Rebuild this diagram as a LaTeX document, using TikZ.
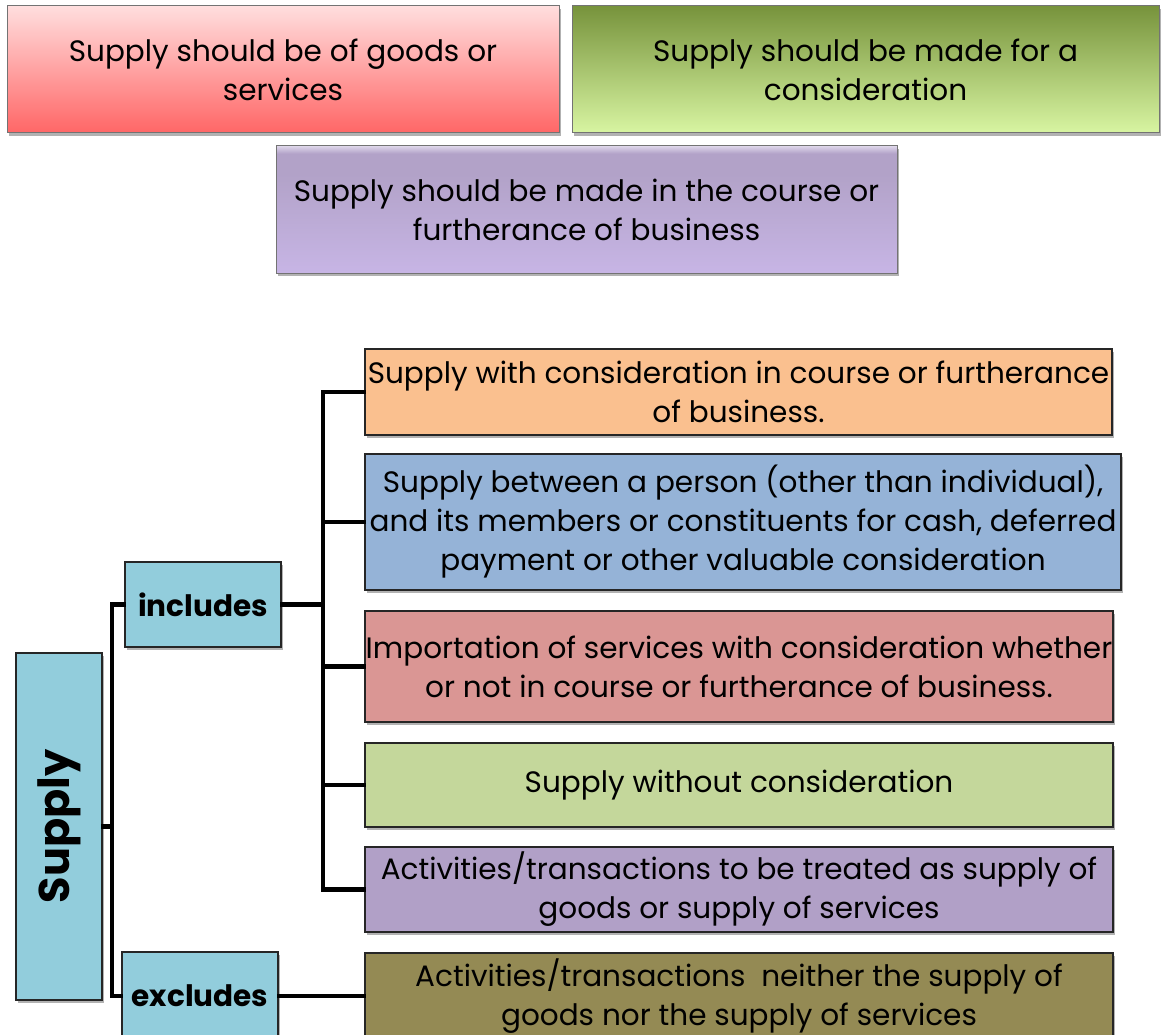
\documentclass[tikz,border=0pt]{standalone}
\usepackage{fontspec}
\usepackage{graphicx}
\setmainfont{Poppins}
\usetikzlibrary{shadows,calc}
\definecolor{cOrange}{RGB}{250,192,143}
\definecolor{cBlue}{RGB}{149,179,215}
\definecolor{cPink}{RGB}{218,150,148}
\definecolor{cGreen}{RGB}{196,215,155}
\definecolor{cPurple}{RGB}{177,160,199}
\definecolor{cOlive}{RGB}{148,138,84}
\definecolor{cCat}{RGB}{146,205,220}
\definecolor{redTop}{RGB}{255,222,222}
\definecolor{redBot}{RGB}{255,102,102}
\definecolor{grnTop}{RGB}{119,147,60}
\definecolor{grnBot}{RGB}{216,245,162}
\definecolor{purTop}{RGB}{222,214,234}
\definecolor{purMid}{RGB}{178,162,200}
\definecolor{purBot}{RGB}{199,181,229}
\pgfdeclareverticalshading{purshade}{100bp}{color(0bp)=(purBot); color(25bp)=(purBot); color(64bp)=(purMid); color(72bp)=(purMid); color(75bp)=(purTop); color(100bp)=(purTop)}
\begin{document}
\begin{tikzpicture}[x=1pt,y=-1pt,
  shad/.style={drop shadow={shadow xshift=1.5pt, shadow yshift=-3pt, opacity=0.3, fill=black}},
  topbox/.style={shad, draw=black!55, line width=1pt, align=center, inner sep=0pt,
    font=\fontsize{29.5}{39}\selectfont},
  leaf/.style={shad, draw=black!85, line width=2pt, align=center, inner sep=0pt,
    font=\fontsize{29.5}{39}\selectfont, minimum width=748pt},
  catbox/.style={shad, draw=black!85, line width=2pt, fill=cCat, inner sep=0pt,
    font=\bfseries\fontsize{29.5}{34}\selectfont},
  conn/.style={line width=4.6pt, draw=black, line cap=rect}
]
\useasboundingbox (0,0) rectangle (1161,1035);

% top conditions
\node[topbox, top color=redTop, bottom color=redBot, minimum width=552pt, minimum height=127pt] (t1) at (283,69.5)
  {Supply should be of goods or\\services};
\node[topbox, top color=grnTop, bottom color=grnBot, minimum width=587pt, minimum height=127pt] (t2) at (865.5,69.5)
  {Supply should be made for a\\consideration};
\node[topbox, shading=purshade, minimum width=621pt, minimum height=127pt] (t3) at (586.5,209.5)
  {Supply should be made in the course or\\furtherance of business};

% tree nodes
\node[catbox, minimum width=86pt, minimum height=347pt] (sup) at (59,826.5)
  {\fontsize{43}{46}\selectfont\rotatebox{90}{Supply}};
\node[catbox, minimum width=156pt, minimum height=85pt] (inc) at (203,604.5) {includes};
\node[catbox, minimum width=156pt, minimum height=88pt] (exc) at (200,996) {excludes};

\node[leaf, fill=cOrange, minimum width=747pt, minimum height=86pt] (b1) at (738.5,392)
  {Supply with consideration in course or furtherance\\of business.};
\node[leaf, fill=cBlue, minimum width=756pt, minimum height=136pt] (b2) at (743,522)
  {Supply between a person (other than individual),\\and its members or constituents for cash, deferred\\payment or other valuable consideration};
\node[leaf, fill=cPink, minimum height=111pt] (b3) at (739,666.5)
  {Importation of services with consideration whether\\or not in course or furtherance of business.};
\node[leaf, fill=cGreen, minimum height=84pt] (b4) at (739,785)
  {Supply without consideration};
\node[leaf, fill=cPurple, minimum height=85pt] (b5) at (739,889.5)
  {Activities/transactions to be treated as supply of\\goods or supply of services};
\node[leaf, fill=cOlive, minimum height=86pt] (b6) at (739,996)
  {Activities/transactions\ \ neither the supply of\\goods nor the supply of services};

% connectors
\coordinate (busI) at (323,390);
\coordinate (busS) at (112,826);
\draw[conn] (inc.east) -- (inc.east -| busI);
\draw[conn] (busI |- b1.west) -- (busI |- b5.west);
\foreach \b in {b1,b2,b3,b4,b5} \draw[conn] (busI |- \b.west) -- (\b.west);
\draw[conn] (sup.east) -- (sup.east -| busS);
\draw[conn] (busS |- inc.west) -- (busS |- exc.west);
\draw[conn] (busS |- inc.west) -- (inc.west);
\draw[conn] (busS |- exc.west) -- (exc.west);
\draw[conn] (exc.east) -- (exc.east -| b6.west);
\end{tikzpicture}
\end{document}
